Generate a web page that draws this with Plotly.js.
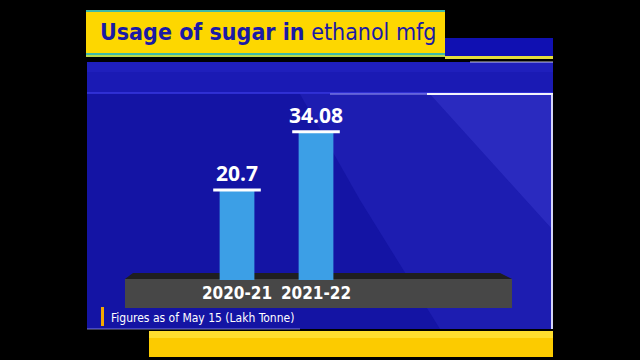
<!DOCTYPE html>
<html>
<head>
<meta charset="utf-8">
<script src="https://cdn.plot.ly/plotly-3.0.1.min.js"></script>
<style>html,body{margin:0;padding:0;background:#000;}#chart{width:640px;height:360px;}</style>
</head>
<body>
<div id="chart"></div>
<script>
// ---- data ----
const seasons = ['2020-21', '2021-22'];
const sugarUsed = [20.7, 34.08];
const valueLabels = ['20.7', '34.08'];
const titleBold = 'Usage of sugar in';
const titleRest = 'ethanol mfg';
const footnote = 'Figures as of May 15 (Lakh Tonne)';

const NARROW = 'DejaVu Sans Condensed, DejaVu Sans';

// ---- helpers (pixel -> paper) ----
const W = 640, H = 360;
const px = v => v / W;
const py = v => 1 - v / H;
function rect(x0, y0, x1, y1, fill, extra) {
  return Object.assign({type: 'rect', xref: 'paper', yref: 'paper', x0: px(x0), x1: px(x1), y0: py(y1), y1: py(y0),
    fillcolor: fill, line: {width: 0}, layer: 'below'}, extra || {});
}
function poly(pts, fill, extra) {
  const d = 'M ' + pts.map(p => px(p[0]) + ',' + py(p[1])).join(' L ') + ' Z';
  return Object.assign({type: 'path', xref: 'paper', yref: 'paper', path: d, fillcolor: fill, line: {width: 0}, layer: 'below'}, extra || {});
}
function hline(x0, x1, y, color, w, op) {
  return {type: 'line', xref: 'paper', yref: 'paper', x0: px(x0), x1: px(x1), y0: py(y), y1: py(y),
    line: {color: color, width: w}, opacity: op == null ? 1 : op, layer: 'below'};
}
function vline(x, y0, y1, color, w, op) {
  return {type: 'line', xref: 'paper', yref: 'paper', x0: px(x), x1: px(x), y0: py(y0), y1: py(y1),
    line: {color: color, width: w}, opacity: op == null ? 1 : op, layer: 'below'};
}

const shapes = [
  // main blue panel
  rect(87, 62, 553, 329, '#1414a4'),
  rect(87, 62, 553, 93, '#1a1ab4'),
  rect(87, 62, 553, 72, '#2424c4', {opacity: 0.5}),
  hline(87, 553, 93, '#3a3ae4', 2, 0.7),
  // lighter inner panel at right
  poly([[300, 94], [553, 94], [553, 329], [440, 329], [360, 200]], '#2828c0', {opacity: 0.45}),
  poly([[430, 94], [553, 94], [553, 230]], '#3c3cd0', {opacity: 0.45}),
  hline(427, 553, 94, '#ffffff', 2, 0.95),
  hline(330, 427, 94, '#9a9af0', 2, 0.5),
  vline(552, 94, 329, '#e8e8ff', 2, 0.9),
  // bottom left glow
  hline(87, 300, 329, '#b0b0ff', 1.5, 0.45),
  // yellow title box
  rect(86, 10, 445, 57, '#fdd700'),
  rect(86, 10, 445, 12, '#3fb9a6'),
  rect(86, 53, 445, 55, '#3fb9a6'),
  rect(86, 55, 445, 57, '#b8d84a'),
  // dark blue box to right of title
  rect(445, 38, 553, 56, '#1010b2'),
  rect(445, 56, 553, 59, '#e6df3a'),
  hline(470, 553, 62, '#ffffff', 1.5, 0.5),
  // bottom yellow bar
  rect(149, 331, 553, 357, '#fccb00'),
  rect(149, 331, 553, 338, '#ffe23a', {opacity: 0.8}),
  // platform top face and front face
  poly([[133, 273], [500, 273], [512, 279], [125, 279]], '#1f1f1f'),
  rect(125, 279, 512, 308, '#474747'),
  // footnote orange marker
  rect(101, 307, 104, 326, '#f5a800')
];

const barTrace = {
  type: 'bar',
  x: seasons,
  y: sugarUsed,
  width: 0.44,
  marker: {color: '#3c9fe6', line: {width: 0}},
  text: valueLabels,
  textposition: 'outside',
  constraintext: 'none',
  textfont: {family: 'Open Sans', size: 21, color: '#ffffff', weight: 'bold'},
  cliponaxis: false,
  hoverinfo: 'skip'
};
const topEdge = {
  type: 'scatter',
  mode: 'markers',
  x: seasons,
  y: sugarUsed,
  marker: {symbol: 'line-ew-open', size: 34, color: '#ffffff', line: {color: '#ffffff', width: 3}},
  cliponaxis: false,
  hoverinfo: 'skip'
};

const layout = {
  width: W, height: H,
  margin: {l: 0, r: 0, t: 0, b: 0},
  paper_bgcolor: '#000000',
  plot_bgcolor: 'rgba(0,0,0,0)',
  showlegend: false,
  title: {
    text: '<b>' + titleBold + '</b> ' + titleRest,
    font: {family: NARROW, size: 23, color: '#1a1aa6'},
    x: px(100), xanchor: 'left', xref: 'paper',
    y: py(32), yanchor: 'middle', yref: 'paper'
  },
  xaxis: {
    type: 'category',
    range: [-3.0, 5.101],
    showgrid: false, zeroline: false, showline: false, ticks: '',
    tickangle: 0,
    tickfont: {family: NARROW, size: 17, color: '#ffffff', weight: 'bold'},
    ticklabelstandoff: 1,
    fixedrange: true
  },
  yaxis: {
    domain: [80 / 360, 1],
    range: [0, 280 / 4.35],
    visible: false, showgrid: false, zeroline: false,
    fixedrange: true
  },
  shapes: shapes,
  annotations: [{
    xref: 'paper', yref: 'paper', x: px(109), y: py(318), xanchor: 'left', yanchor: 'middle',
    text: footnote, showarrow: false,
    font: {family: NARROW, size: 12, color: '#ffffff'}
  }]
};

Plotly.newPlot('chart', [barTrace, topEdge], layout, {displayModeBar: false, staticPlot: true});
</script>
</body>
</html>
